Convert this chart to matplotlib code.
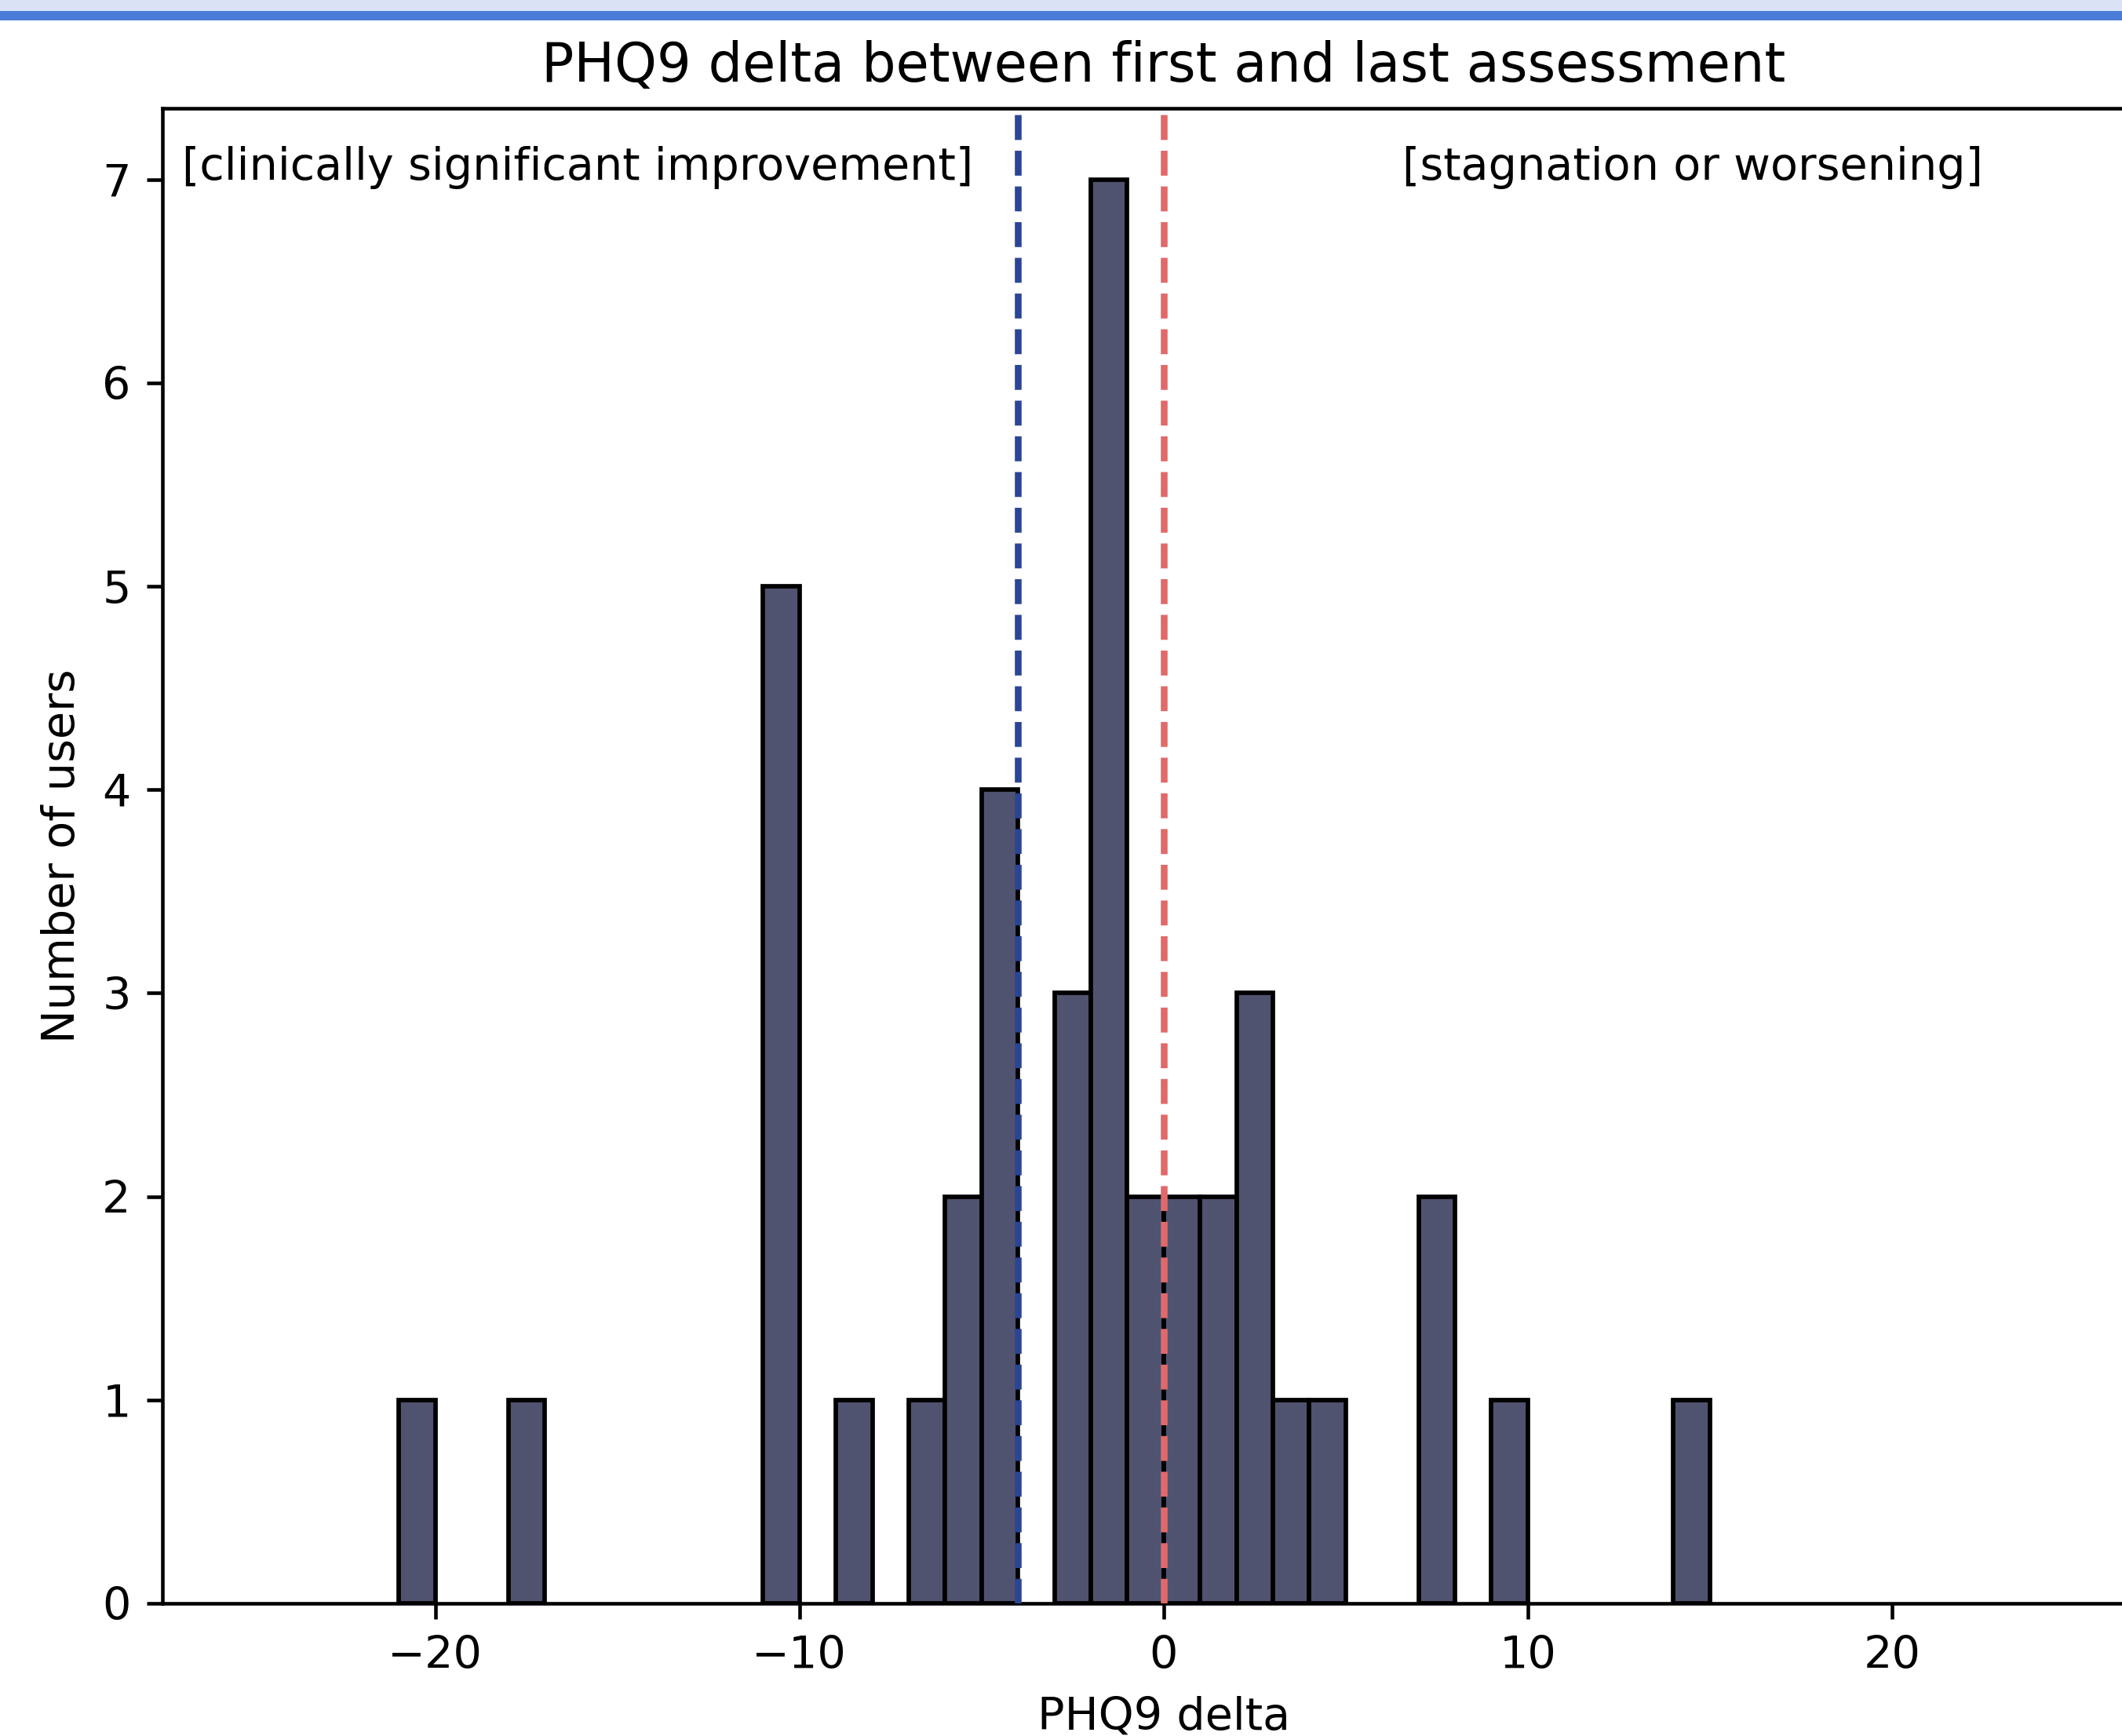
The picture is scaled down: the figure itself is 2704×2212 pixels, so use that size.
import matplotlib
matplotlib.use("Agg")
import matplotlib.pyplot as plt
from matplotlib.patches import Rectangle
import numpy as np

# Histogram bins (left edges, width 1) and counts
bin_left = [-21, -18, -11, -9, -7, -6, -5, -3, -2, -1, 0, 1, 2, 3, 4, 7, 9, 14]
counts   = [1,    1,   5,   1,  1,  2,  4,  3,  7,  2, 2, 2, 3, 1, 1, 2, 1, 1]
xticks = [-20, -10, 0, 10, 20]
yticks = [0, 1, 2, 3, 4, 5, 6, 7]
threshold_improve = -4
threshold_zero = 0

DPI = 412
fig = plt.figure(figsize=(2704 / DPI, 2212 / DPI), dpi=DPI)
fig.patch.set_facecolor("white")

# header band from screenshot
fig.patches.append(Rectangle((0, 1 - 14 / 2212), 1, 14 / 2212, transform=fig.transFigure,
                             facecolor="#dae3f5", edgecolor="none", zorder=0))
fig.patches.append(Rectangle((0, 1 - 26 / 2212), 1, 12 / 2212, transform=fig.transFigure,
                             facecolor="#4a7bd6", edgecolor="none", zorder=0))

ax = fig.add_axes([206.7 / 2704, (2212 - 2043) / 2212, 2552 / 2704, 1905 / 2212])

ax.bar(bin_left, counts, width=1, align="edge", color="#50536f",
       edgecolor="black", linewidth=1.0, zorder=2)

ax.axvline(threshold_improve, color="#2b4596", linestyle="--", linewidth=1.5, zorder=3)
ax.axvline(threshold_zero, color="#e06a6a", linestyle="--", linewidth=1.5, zorder=3)

ax.text(-26.95, 7.0, "[clinically significant improvement]", fontsize=10)
ax.text(6.55, 7.0, "[stagnation or worsening]", fontsize=10)

ax.set_xlim(-27.5, 27.5)
ax.set_ylim(0, 7.35)
ax.set_xticks(xticks)
ax.set_yticks(yticks)
ax.tick_params(labelsize=10)
ax.set_title("PHQ9 delta between first and last assessment", fontsize=12)
ax.set_xlabel("PHQ9 delta", fontsize=10)
ax.set_ylabel("Number of users", fontsize=10)

fig.savefig("out.png", dpi=DPI)
